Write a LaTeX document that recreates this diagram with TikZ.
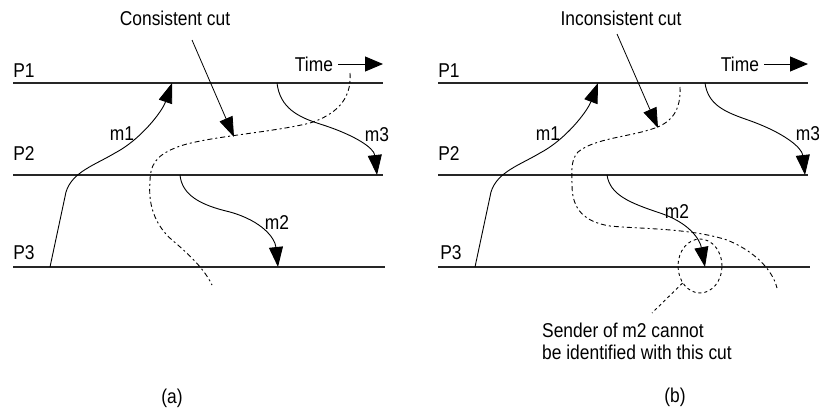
\documentclass[tikz,border=0pt]{standalone}
\usepackage{fontspec}
\setmainfont{Liberation Sans}[FakeStretch=0.87]
\usetikzlibrary{arrows.meta,shapes.geometric}
\begin{document}
\begin{tikzpicture}[x=1pt,y=-1pt,
  proc/.style={line width=1.4pt, draw=black!85},
  msg/.style={line width=0.9pt, -{Triangle[length=20pt,width=14pt]}},
  cutline/.style={line width=0.9pt, dash pattern=on 5pt off 3pt on 2pt off 3pt},
  ptr/.style={line width=0.8pt, -{Triangle[length=20pt,width=14pt]}},
  lbl/.style={inner sep=0pt, font=\fontsize{20}{22}\selectfont},
]
\useasboundingbox (0,0) rectangle (819,410);

% ---------------- panel (a) ----------------
\coordinate (a1s) at (13,83);  \coordinate (a1e) at (383,83);
\coordinate (a2s) at (13,175); \coordinate (a2e) at (383,175);
\coordinate (a3s) at (13,267); \coordinate (a3e) at (385,267);
\draw[proc] (a1s) -- (a1e);
\draw[proc] (a2s) -- (a2e);
\draw[proc] (a3s) -- (a3e);
\node[lbl] (aP1) at (24,71) {P1};
\node[lbl] (aP2) at (24,154) {P2};
\node[lbl] (aP3) at (24,253) {P3};
\node[lbl] (aTime) at (314,64) {Time};
\coordinate (aTimeEnd) at (383,64);
\draw[line width=0.9pt, -{Triangle[length=18pt,width=15pt]}] (aTime.east) ++(5,0) -- (aTimeEnd);

\node[lbl] (aCutLbl) at (175,18) {Consistent cut};
\coordinate (aCutTip) at (234,137);
\draw[ptr] (192,40) -- (aCutTip);

% m1
\coordinate (am1s) at (50,267); \coordinate (am1e) at (172,83);
\draw[msg] (am1s) -- (66,192) .. controls (72,172) and (95,165) .. (115,153)
  .. controls (140,140) and (162,112) .. (am1e);
\node[lbl] (am1) at (122,134) {m1};
% m3
\coordinate (am3s) at (277,83); \coordinate (am3e) at (377,175);
\draw[msg] (am3s) .. controls (280,108) and (298,117) .. (320,124)
  .. controls (355,135) and (374,148) .. (am3e);
\node[lbl] (am3) at (377,135) {m3};
% m2
\coordinate (am2s) at (180,175); \coordinate (am2e) at (278,267);
\draw[msg] (am2s) .. controls (182,195) and (200,205) .. (230,212)
  .. controls (262,221) and (275,238) .. (am2e);
\node[lbl] (am2) at (277,223) {m2};
% consistent cut
\draw[cutline] (350,73) .. controls (352,100) and (335,115) .. (310,123)
  .. controls (270,133) and (200,137) .. (175,148)
  .. controls (155,156) and (150,166) .. (150,182)
  .. controls (148,205) and (155,225) .. (172,240)
  .. controls (190,255) and (205,270) .. (212,285);
\node[lbl] (aCap) at (172,398) {(a)};

% ---------------- panel (b) ----------------
\coordinate (b1s) at (438,83);  \coordinate (b1e) at (808,83);
\coordinate (b2s) at (438,175); \coordinate (b2e) at (808,175);
\coordinate (b3s) at (438,267); \coordinate (b3e) at (810,267);
\draw[proc] (b1s) -- (b1e);
\draw[proc] (b2s) -- (b2e);
\draw[proc] (b3s) -- (b3e);
\node[lbl] (bP1) at (449,71) {P1};
\node[lbl] (bP2) at (449,154) {P2};
\node[lbl] (bP3) at (451,253) {P3};
\node[lbl] (bTime) at (740,64) {Time};
\coordinate (bTimeEnd) at (808,64);
\draw[line width=0.9pt, -{Triangle[length=18pt,width=15pt]}] (bTime.east) ++(5,0) -- (bTimeEnd);

\node[lbl] (bCutLbl) at (621,18) {Inconsistent cut};
\coordinate (bCutTip) at (658,128);
\draw[ptr] (617,34) -- (bCutTip);

% m1
\coordinate (bm1s) at (475,267); \coordinate (bm1e) at (598,83);
\draw[msg] (bm1s) -- (491,192) .. controls (497,172) and (520,165) .. (540,153)
  .. controls (565,140) and (587,112) .. (bm1e);
\node[lbl] (bm1) at (548,134) {m1};
% m3
\coordinate (bm3s) at (705,83); \coordinate (bm3e) at (805,175);
\draw[msg] (bm3s) .. controls (708,105) and (725,112) .. (748,120)
  .. controls (785,133) and (802,148) .. (bm3e);
\node[lbl] (bm3) at (808,134) {m3};
% m2
\coordinate (bm2s) at (607,175); \coordinate (bm2e) at (705,267);
\draw[msg] (bm2s) .. controls (610,195) and (630,203) .. (660,213)
  .. controls (690,223) and (700,240) .. (bm2e);
\node[lbl] (bm2) at (677,212) {m2};
% inconsistent cut
\draw[cutline] (680,87) .. controls (681,110) and (672,122) .. (655,128)
  .. controls (630,137) and (595,138) .. (578,152)
  .. controls (570,160) and (572,175) .. (572,185)
  .. controls (572,210) and (585,222) .. (610,226)
  .. controls (640,229) and (690,228) .. (727,240)
  .. controls (752,250) and (772,268) .. (777,288);
% circle and explanation
\node[draw, ellipse, dashed, line width=0.9pt, minimum width=44pt, minimum height=54pt,
      inner sep=0pt] (circ) at (700,266) {};
\coordinate (ptrEnd) at (652,313);
\draw[line width=0.9pt, dashed] (circ) -- (ptrEnd);
\node[lbl, anchor=west, align=left] (expl) at (542,341)
  {Sender of m2 cannot\\be identified with this cut};
\node[lbl] (bCap) at (675,397) {(b)};
\end{tikzpicture}
\end{document}
